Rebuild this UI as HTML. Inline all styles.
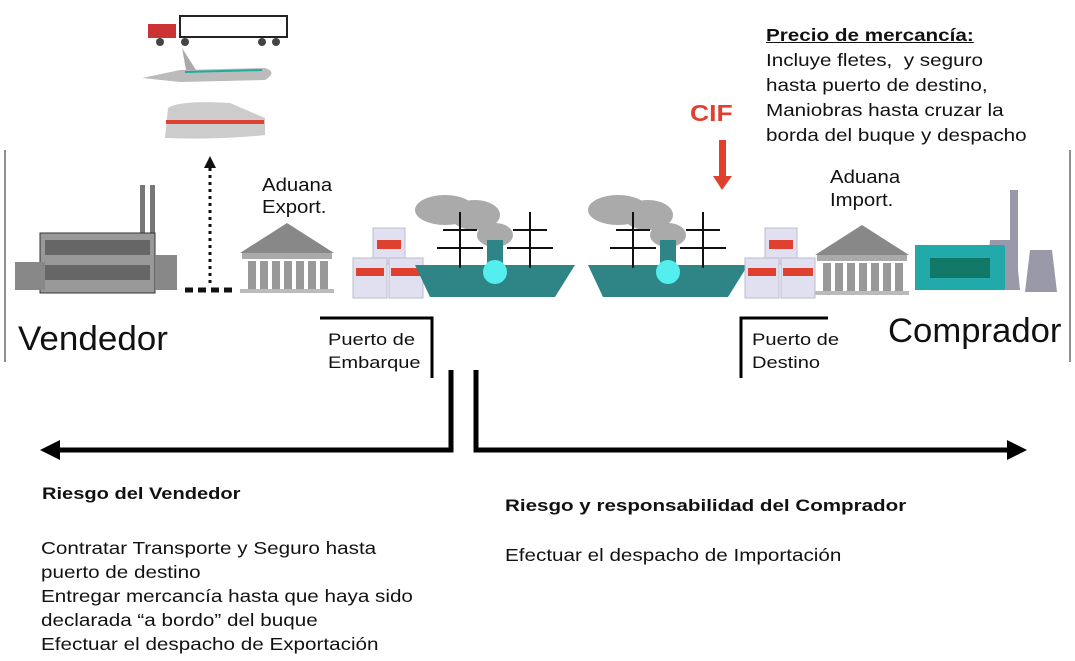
<!DOCTYPE html>
<html><head><meta charset="utf-8"><style>
body{margin:0;width:1075px;height:661px;background:#fff;position:relative;overflow:hidden;font-family:"Liberation Sans",sans-serif;color:#111}
.t{position:absolute;white-space:nowrap;transform-origin:0 0}
.s{transform:scaleX(1.18)}
</style></head><body>
<svg width="1075" height="661" style="position:absolute;left:0;top:0">
<defs>
<g id="temple"><polygon points="0,30 47,0 94,30" fill="#888"/><rect x="2" y="30" width="90" height="6" fill="#aaa"/>
<g fill="#999"><rect x="8" y="38" width="8" height="28"/><rect x="20" y="38" width="8" height="28"/><rect x="32" y="38" width="8" height="28"/><rect x="44" y="38" width="8" height="28"/><rect x="56" y="38" width="8" height="28"/><rect x="68" y="38" width="8" height="28"/><rect x="80" y="38" width="8" height="28"/></g>
<rect x="0" y="66" width="94" height="4" fill="#bbb"/></g>
<g id="crates"><rect x="20" y="0" width="32" height="36" fill="#e0e0f0" stroke="#bbc"/><rect x="24" y="12" width="24" height="9" fill="#e04030"/>
<rect x="0" y="30" width="34" height="40" fill="#e0e0f0" stroke="#bbc"/><rect x="3" y="40" width="28" height="8" fill="#e04030"/>
<rect x="36" y="30" width="34" height="40" fill="#e0e0f0" stroke="#bbc"/><rect x="38" y="40" width="30" height="8" fill="#e04030"/></g>
<g id="ship"><ellipse cx="30" cy="20" rx="30" ry="15" fill="#aaa"/><ellipse cx="60" cy="25" rx="25" ry="15" fill="#aaa"/><ellipse cx="80" cy="45" rx="18" ry="12" fill="#aaa"/>
<path d="M0,75 L160,75 L140,107 L15,107 Z" fill="#2f8585"/><rect x="72" y="50" width="16" height="28" fill="#2f8585"/>
<g stroke="#111" stroke-width="2"><line x1="45" y1="22" x2="45" y2="78"/><line x1="28" y1="40" x2="62" y2="40"/><line x1="22" y1="58" x2="68" y2="58"/><line x1="115" y1="22" x2="115" y2="78"/><line x1="98" y1="40" x2="132" y2="40"/><line x1="92" y1="58" x2="138" y2="58"/></g>
<circle cx="80" cy="82" r="12" fill="#5ee"/></g>
</defs>
<line x1="5" y1="150" x2="5" y2="362" stroke="#222"/>
<line x1="1070" y1="150" x2="1070" y2="362" stroke="#222"/>
<rect x="180" y="16" width="107" height="21" fill="#fff" stroke="#222" stroke-width="2"/>
<rect x="148" y="24" width="28" height="14" fill="#c33"/><circle cx="160" cy="42" r="4" fill="#444"/><circle cx="185" cy="42" r="4" fill="#444"/><circle cx="262" cy="42" r="4" fill="#444"/><circle cx="276" cy="42" r="4" fill="#444"/>
<path d="M142,78 L180,70 L265,68 Q278,72 265,80 L180,82 Z" fill="#bbb"/><line x1="185" y1="72" x2="262" y2="70" stroke="#2a9" stroke-width="2"/><polygon points="182,48 196,70 186,70" fill="#aaa"/>
<path d="M165,138 L168,108 Q180,100 230,103 L265,118 L265,135 Q220,140 165,138Z" fill="#ccc"/><rect x="166" y="120" width="98" height="4" fill="#e04030"/>
<rect x="140" y="185" width="5" height="50" fill="#777"/><rect x="150" y="185" width="5" height="50" fill="#777"/>
<rect x="40" y="233" width="115" height="60" fill="#999" stroke="#333"/><rect x="15" y="262" width="30" height="28" fill="#888"/><rect x="155" y="255" width="22" height="35" fill="#888"/>
<g fill="#444"><rect x="45" y="240" width="105" height="15" opacity=".6"/><rect x="45" y="265" width="105" height="15" opacity=".6"/></g>
<line x1="210" y1="168" x2="210" y2="285" stroke="#111" stroke-width="3" stroke-dasharray="3,4"/>
<polygon points="204,168 216,168 210,156" fill="#111"/>
<line x1="185" y1="290" x2="236" y2="290" stroke="#111" stroke-width="5" stroke-dasharray="8,5"/>
<use href="#temple" x="240" y="223"/>
<use href="#crates" x="353" y="228"/>
<use href="#ship" x="415" y="190"/>
<use href="#ship" x="588" y="190"/>
<use href="#crates" x="745" y="228"/>
<use href="#temple" x="815" y="225"/>
<rect x="1010" y="190" width="8" height="80" fill="#99a"/>
<path d="M990,240 h25 l5,50 h-35z M1030,250 h22 l5,42 h-32z" fill="#99a"/>
<rect x="915" y="245" width="90" height="45" fill="#2aa" /><rect x="930" y="258" width="60" height="20" fill="#176"/>
<rect x="719" y="140" width="7" height="38" fill="#e04030"/><polygon points="713,176 732,176 722,190" fill="#e04030"/>
<path d="M320,318 H432 V378" fill="none" stroke="#000" stroke-width="3"/>
<path d="M828,318 H741 V378" fill="none" stroke="#000" stroke-width="3"/>
<path d="M451,370 V450 H56" fill="none" stroke="#000" stroke-width="5"/>
<path d="M476,370 V450 H1010" fill="none" stroke="#000" stroke-width="5"/>
<polygon points="40,450 60,440 60,460" fill="#000"/><polygon points="1027,450 1007,440 1007,460" fill="#000"/>
</svg>
<div class="t" style="left:262px;top:174px;font-size:18px;line-height:22px;transform:scaleX(1.13)">Aduana<br>Export.</div>
<div class="t" style="left:830px;top:166px;font-size:18px;line-height:23px;transform:scaleX(1.13)">Aduana<br>Import.</div>
<div class="t" style="left:18px;top:320px;font-size:34px;transform:scaleX(1.03)">Vendedor</div>
<div class="t" style="left:888px;top:312px;font-size:34px;transform:scaleX(1.02)">Comprador</div>
<div class="t s" style="left:328px;top:328px;font-size:17px;line-height:23px">Puerto de<br>Embarque</div>
<div class="t s" style="left:752px;top:328px;font-size:17px;line-height:23px">Puerto de<br>Destino</div>
<div class="t" style="left:690px;top:100px;font-size:23px;font-weight:bold;color:#e04030;transform:scaleX(1.15)">CIF</div>
<div class="t s" style="left:766px;top:23px;font-size:17.5px;line-height:25px"><b><u>Precio de mercancía:</u></b><br>Incluye fletes,&nbsp; y seguro<br>hasta puerto de destino,<br>Maniobras hasta cruzar la<br>borda del buque y despacho</div>
<div class="t s" style="left:42px;top:484px;font-size:17px;font-weight:bold">Riesgo del Vendedor</div>
<div class="t" style="left:505px;top:496px;font-size:17px;font-weight:bold;transform:scaleX(1.21)">Riesgo y responsabilidad del Comprador</div>
<div class="t s" style="left:41px;top:536px;font-size:17.5px;line-height:24px">Contratar Transporte y Seguro hasta<br>puerto de destino<br>Entregar mercancía hasta que haya sido<br>declarada “a bordo” del buque<br>Efectuar el despacho de Exportación</div>
<div class="t s" style="left:505px;top:545px;font-size:17.5px">Efectuar el despacho de Importación</div>
</body></html>
